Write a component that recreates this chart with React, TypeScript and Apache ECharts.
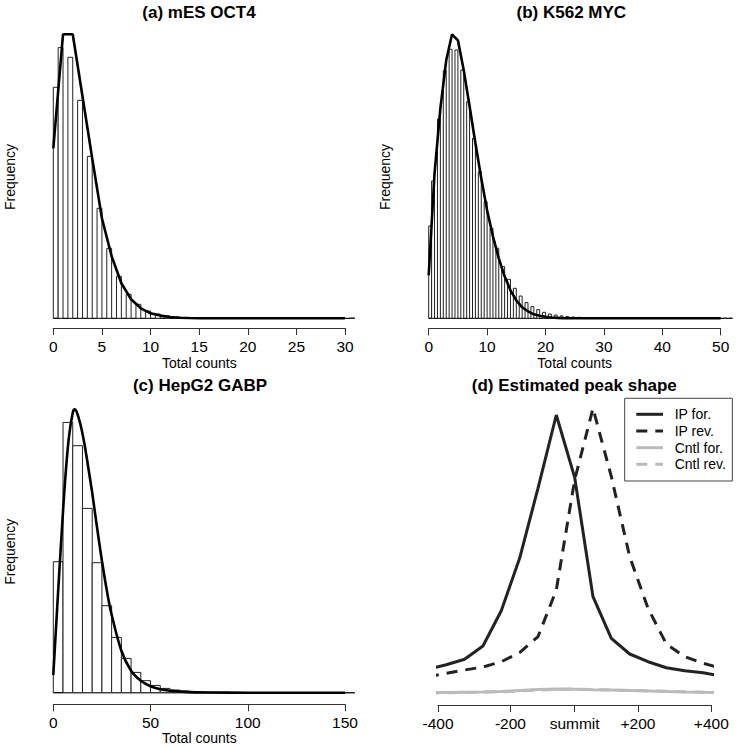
import React, { useEffect, useRef } from "react";
import * as echarts from "echarts";

const FONT = "'Liberation Sans', Arial, Helvetica, sans-serif";

// ---------- (a) mES OCT4 : histogram of total counts (bins (k-0.5, k]) ----------
const aCounts = [231, 270.7, 261, 218, 162, 110, 70, 42, 24, 14, 7.3, 4.3, 2.3, 1.3, 0.7, 0.4, 0.3, 0.2, 0.1, 0.1, 0.05, 0.05, 0, 0, 0, 0, 0, 0, 0, 0, 0, 0.05];
const aCurve = [170, 284, 284, 222, 160, 100, 62, 35, 19, 10, 5, 2.7, 1.3, 0.6, 0.3, 0.1, 0, 0, 0, 0, 0, 0, 0, 0, 0, 0, 0, 0, 0, 0, 0];
const aTicks = { min: 0, max: 30, interval: 5 };

// ---------- (b) K562 MYC ----------
const bCounts = [92.3, 137.3, 199.3, 247.7, 269, 268.3, 248.3, 216.7, 180, 146.7,
  116.7, 90, 70, 51.7, 39, 30, 22.3, 15.7, 11.7, 8.7,
  6, 4.3, 3.2, 2.4, 1.8, 1.3, 1, 0.8, 0.6, 0.5,
  0.4, 0.3, 0.25, 0.2, 0.15, 0.1, 0.1, 0.1, 0.05, 0.05,
  0.05, 0, 0, 0, 0, 0, 0, 0, 0, 0, 0, 0, 0.05];
const bCurve = [43, 145, 210, 258, 284, 278, 248, 212, 175, 140, 108, 82, 60, 42, 28, 18, 11, 7, 4, 2.5, 1.5, 0.8, 0.4, 0.2, 0.1,
  0, 0, 0, 0, 0, 0, 0, 0, 0, 0, 0, 0, 0, 0, 0, 0, 0, 0, 0, 0, 0, 0, 0, 0, 0, 0];
const bTicks = { min: 0, max: 50, interval: 10 };

// ---------- (c) HepG2 GABP : bins of width 5 ----------
const cBinWidth = 5;
const cCounts = [131, 270.3, 247, 184.3, 130, 87, 55.3, 34.3, 20.3, 12, 7.3, 4.3, 2.7, 1.7, 1, 0.7, 0.4, 0.3, 0.2, 0.15, 0.1, 0.1, 0.05, 0.05, 0, 0, 0, 0, 0, 0, 0.05];
const cCurveX = [0, 2, 4, 6, 8, 10, 11, 12, 14, 16, 18, 20, 22, 25, 28, 30, 35, 40, 45, 50, 55, 60, 70, 80, 100, 150];
const cCurveY = [17.7, 85, 150, 210, 255, 280, 283.3, 281, 268, 249, 225, 200, 172, 132, 97, 78, 42, 22, 12, 6.5, 3.5, 2, 0.6, 0.2, 0, 0];
const cTicks = { min: 0, max: 150, interval: 50 };

// ---------- (d) Estimated peak shape ----------
const dBins = [-8, -7, -6, -5, -4, -3, -2, -1, 0, 1, 2, 3, 4, 5, 6, 7, 8];
const ipFor = [25.7, 30.3, 35.7, 49, 84.3, 136.7, 206.7, 280, 217.7, 98.3, 56.7, 41, 33.3, 27.3, 24.3, 22.3, 19];
const ipRev = [18.3, 21.7, 25, 28, 33.3, 42.3, 58.3, 105, 215, 286.7, 218.3, 138.3, 86.7, 51, 38.3, 31.7, 26.7];
const cntlFor = [2.3, 2.5, 2.8, 3, 3.5, 4.5, 5.5, 6, 5.8, 5.2, 5, 4.5, 4, 3.5, 3, 2.7, 2.5];
const cntlRev = [2, 2.2, 2.5, 3, 3.2, 4, 5, 5.5, 6, 5.5, 5, 4.5, 4.2, 3.8, 3.2, 2.8, 2.5];
const dTickPos = [-7.45, -3.5, 0, 3.45, 7.45];
const dTickLabels = ["-400", "-200", "summit", "+200", "+400"];
const dNames = ["IP for.", "IP rev.", "Cntl for.", "Cntl rev."];

const titles = ["(a) mES OCT4", "(b) K562 MYC", "(c) HepG2 GABP", "(d) Estimated peak shape"];

function halfBins(counts: number[]) {
  return counts.map((h, k) => (k === 0 ? [0, 0.5, h] : [k - 0.5, k, h]));
}
function fullBins(counts: number[], w: number) {
  return counts.map((h, k) => [k * w, (k + 1) * w, h]);
}

function histSeries(bins: number[][], idx: number) {
  const lastEdge = bins[bins.length - 1][1];
  const firstEdge = bins[0][0];
  return {
    type: "custom",
    xAxisIndex: idx,
    yAxisIndex: idx,
    silent: true,
    encode: { x: [0, 1], y: 2 },
    data: bins,
    z: 2,
    renderItem: (params: any, api: any) => {
      const x0 = api.value(0);
      const x1 = api.value(1);
      const h = api.value(2);
      const p0 = api.coord([x0, h]);
      const p1 = api.coord([x1, 0]);
      const children: any[] = [
        {
          type: "rect",
          shape: { x: p0[0], y: p0[1], width: p1[0] - p0[0], height: Math.max(p1[1] - p0[1], 0) },
          style: { fill: "#fff", stroke: "#222", lineWidth: 1 },
        },
      ];
      if (params.dataIndex === 0) {
        const b0 = api.coord([firstEdge, 0]);
        const b1 = api.coord([lastEdge, 0]);
        children.push({
          type: "line",
          shape: { x1: b0[0], y1: b0[1], x2: b1[0], y2: b1[1] },
          style: { stroke: "#111", lineWidth: 1.3 },
        });
      }
      return { type: "group", children };
    },
  };
}

function curveSeries(xs: number[], ys: number[], idx: number, smooth: number | boolean = false) {
  return {
    type: "line",
    name: "fit" + idx,
    xAxisIndex: idx,
    yAxisIndex: idx,
    data: xs.map((x, i) => [x, ys[i]]),
    showSymbol: false,
    symbol: "none",
    clip: false,
    smooth,
    silent: true,
    z: 5,
    lineStyle: { color: "#000", width: 2.6 },
  };
}

const axisCommon = {
  type: "value",
  axisLine: { show: true, onZero: false, lineStyle: { color: "#333", width: 1 } },
  axisTick: { show: true, length: 7, lineStyle: { color: "#333", width: 1 } },
  axisLabel: { fontSize: 15.5, color: "#000", fontFamily: FONT, margin: 10 },
  splitLine: { show: false },
};

export default function App() {
  const ref = useRef<HTMLDivElement>(null);
  useEffect(() => {
    if (!ref.current) return;
    const chart = echarts.init(ref.current, undefined, { renderer: "svg" });

    const grids = [
      { left: 53.3, top: 20, width: 291.7, height: 308 },
      { left: 428.7, top: 20, width: 292, height: 308.3 },
      { left: 53.3, top: 395, width: 291.7, height: 309.3 },
      { left: 438, top: 380, width: 273.3, height: 325 },
    ];
    const yRanges = [
      { min: -9.7, max: 298.3 },
      { min: -10, max: 298.3 },
      { min: -11.6, max: 297.7 },
      { min: -10, max: 315 },
    ];

    const xAxes: any[] = [
      { ...axisCommon, gridIndex: 0, ...aTicks },
      { ...axisCommon, gridIndex: 1, ...bTicks },
      { ...axisCommon, gridIndex: 2, ...cTicks },
      {
        ...axisCommon,
        gridIndex: 3,
        min: dTickPos[0],
        max: dTickPos[dTickPos.length - 1],
        axisTick: { ...axisCommon.axisTick, customValues: dTickPos },
        axisLabel: {
          ...axisCommon.axisLabel,
          customValues: dTickPos,
          formatter: (v: number) => {
            let best = 0;
            dTickPos.forEach((p, i) => {
              if (Math.abs(p - v) < Math.abs(dTickPos[best] - v)) best = i;
            });
            return dTickLabels[best];
          },
        },
      },
    ];
    const yAxes = yRanges.map((r, i) => ({ type: "value", gridIndex: i, ...r, show: false, splitLine: { show: false } }));

    const dColors = ["#222", "#222", "#bbb", "#bbb"];
    const dDash: any[] = [null, [11, 8], null, [11, 8]];
    const dData = [ipFor, ipRev, cntlFor, cntlRev];
    const dSeries = dNames.map((name, i) => ({
      type: "line",
      name,
      xAxisIndex: 3,
      yAxisIndex: 3,
      data: dBins.map((b, j) => [b, dData[i][j]]),
      symbol: "none",
      showSymbol: false,
      clip: false,
      silent: true,
      z: i < 2 ? 6 : 4,
      itemStyle: { color: dColors[i] },
      lineStyle: { color: dColors[i], width: 3, type: dDash[i] || "solid" },
    }));

    const textEl = (text: string, x: number, y: number, size: number, bold = false, rotation = 0, align = "center") => ({
      type: "text",
      x,
      y,
      rotation,
      silent: true,
      z: 20,
      style: {
        text,
        fill: "#000",
        fontSize: size,
        fontWeight: bold ? "bold" : "normal",
        fontFamily: FONT,
        align,
        verticalAlign: "middle",
      },
    });

    // legend box for panel (d)
    const legBox = { x: 624.7, y: 398.3, w: 107.6, h: 82.7 };
    const legRows = [414.3, 431, 447.7, 464.3];
    const legendEls: any[] = [
      {
        type: "rect",
        silent: true,
        z: 15,
        shape: { x: legBox.x, y: legBox.y, width: legBox.w, height: legBox.h },
        style: { fill: "#fff", stroke: "#444", lineWidth: 1 },
      },
    ];
    dNames.forEach((name, i) => {
      legendEls.push({
        type: "line",
        silent: true,
        z: 16,
        shape: { x1: 636.3, y1: legRows[i], x2: 663, y2: legRows[i] },
        style: { stroke: dColors[i], lineWidth: 3, lineDash: dDash[i] || undefined },
      });
      legendEls.push(textEl(name, 674.7, legRows[i], 14, false, 0, "left"));
    });

    const option: any = {
      animation: false,
      backgroundColor: "#fff",
      grid: grids,
      xAxis: xAxes,
      yAxis: yAxes,
      graphic: [
        textEl(titles[0], 199, 12, 17, true),
        textEl(titles[1], 571.3, 12, 17, true),
        textEl(titles[2], 200, 385, 17, true),
        textEl(titles[3], 574.3, 385, 17, true),
        textEl("Frequency", 9.5, 177, 14, false, Math.PI / 2),
        textEl("Frequency", 384.7, 177, 14, false, Math.PI / 2),
        textEl("Frequency", 9.5, 551.7, 14, false, Math.PI / 2),
        textEl("Total counts", 199.3, 362.7, 14),
        textEl("Total counts", 574.7, 362.7, 14),
        textEl("Total counts", 199.3, 738.3, 14),
        ...legendEls,
      ],
      series: [
        histSeries(halfBins(aCounts), 0),
        curveSeries(aCurve.map((_, i) => i), aCurve, 0),
        histSeries(halfBins(bCounts), 1),
        curveSeries(bCurve.map((_, i) => i), bCurve, 1),
        histSeries(fullBins(cCounts, cBinWidth), 2),
        curveSeries(cCurveX, cCurveY, 2, 0.35),
        ...dSeries,
      ],
    };
    chart.setOption(option);
    return () => chart.dispose();
  }, []);
  return <div ref={ref} style={{ position: "absolute", left: 0, top: 0, width: 736, height: 747 }} />;
}
